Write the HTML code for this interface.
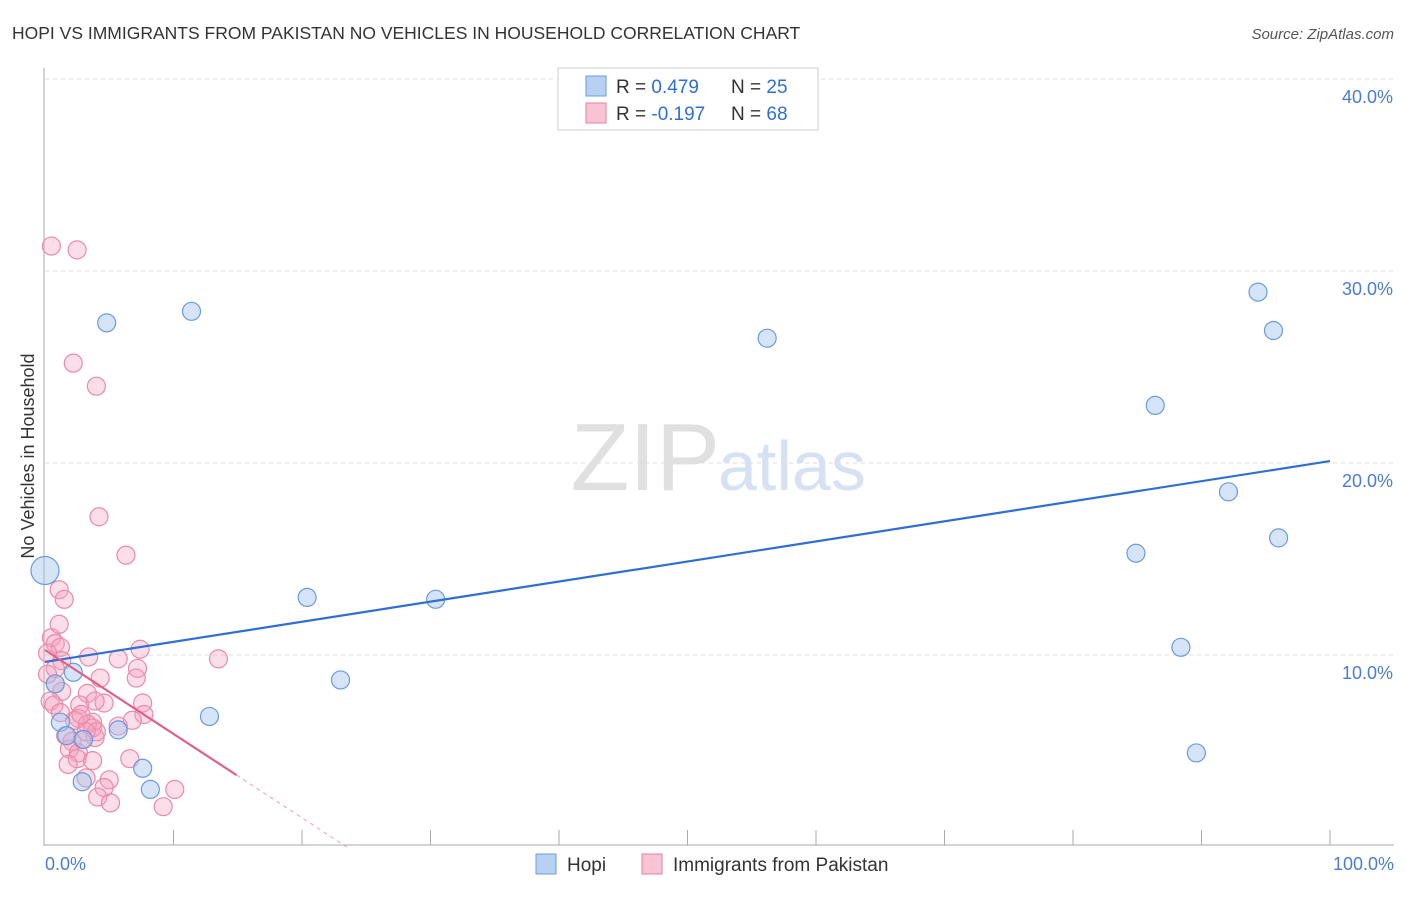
<!DOCTYPE html>
<html><head><meta charset="utf-8"><style>
body{margin:0;background:#fff;font-family:"Liberation Sans",sans-serif;}
svg text{font-family:"Liberation Sans",sans-serif;}
</style></head><body>
<svg width="1406" height="892" viewBox="0 0 1406 892">
<text x="12" y="39" font-size="17.5" fill="#333">HOPI VS IMMIGRANTS FROM PAKISTAN NO VEHICLES IN HOUSEHOLD CORRELATION CHART</text>
<text x="1394" y="39" font-size="15" fill="#555" font-style="italic" text-anchor="end">Source: ZipAtlas.com</text>
<g id="grid"></g>
<g id="axes"></g>
<text x="720" y="490" font-size="96" fill="#e0e0e0" text-anchor="end" font-family="Liberation Serif">ZIP</text>
<text x="718" y="490" font-size="70" fill="#d6e2f3">atlas</text>
<g id="pts"></g>
<g id="lines"></g>
<text x="34" y="456" font-size="18" fill="#333" transform="rotate(-90 34 456)" text-anchor="middle">No Vehicles in Household</text>
<text x="45" y="870" font-size="18" fill="#4a7cd6">0.0%</text>
<text x="1394" y="870" font-size="18" fill="#4a7cd6" text-anchor="end">100.0%</text>
<g>
<rect x="558" y="68" width="260" height="62" fill="#fff" stroke="#ccc"/>
<rect x="586" y="76" width="20" height="20" fill="#b8d0f2" stroke="#6a9be0"/>
<rect x="586" y="103" width="20" height="20" fill="#f8c4d4" stroke="#e8809f"/>
<text x="616" y="93" font-size="19" fill="#333">R = <tspan fill="#2f6fd4">0.479</tspan><tspan x="731">N = </tspan><tspan fill="#2f6fd4">25</tspan></text>
<text x="616" y="120" font-size="19" fill="#333">R = <tspan fill="#2f6fd4">-0.197</tspan><tspan x="731">N = </tspan><tspan fill="#2f6fd4">68</tspan></text>
</g>
<g>
<rect x="536" y="854" width="20" height="20" fill="#b8d0f2" stroke="#6a9be0"/>
<text x="567" y="871" font-size="19" fill="#333">Hopi</text>
<rect x="642" y="854" width="20" height="20" fill="#f8c4d4" stroke="#e8809f"/>
<text x="673" y="871" font-size="19" fill="#333">Immigrants from Pakistan</text>
</g>
</svg>
<script>
const yTicks=[10,20,30,40];
const yTickLabels=["10.0%","20.0%","30.0%","40.0%"];
const hopiX=[0,4.8,11.4,56.2,94.4,95.6,86.4,92.1,84.9,96.0,20.4,30.4,23.0,12.8,88.4,89.6,2.2,0.8,1.2,1.7,3.0,5.7,7.6,8.2,2.9];
const hopiY=[14.4,27.3,27.9,26.5,28.9,26.9,23.0,18.5,15.3,16.1,13.0,12.9,8.7,6.8,10.4,4.9,9.1,8.5,6.5,5.8,5.6,6.1,4.1,3.0,3.4];
const pakX=[0.5,2.5,2.2,4.0,4.2,6.3,1.1,1.5,0.5,0.8,1.2,0.2,1.3,3.4,5.7,7.4,13.5,7.2,4.3,7.1,0.8,3.3,1.3,4.6,0.4,0.7,2.7,2.6,7.6,7.7,6.8,2.3,3.7,3.3,1.6,2.1,3.9,3.7,1.9,2.6,2.5,6.6,3.2,5.0,4.6,4.1,5.1,10.1,9.2,5.7,1.2,0.8,0.2,1.8,3.7,2.9,3.9,2.8,4.0,3.2,1.1];
const pakY=[31.3,31.1,25.2,24.0,17.2,15.2,13.4,12.9,10.9,10.6,10.4,10.1,9.7,9.9,9.8,10.3,9.8,9.3,8.8,8.8,8.5,8.0,8.1,7.5,7.6,7.4,7.4,6.7,7.5,6.9,6.6,6.6,6.5,6.4,5.8,5.5,5.7,6.2,5.1,4.9,4.6,4.6,3.6,3.5,3.1,2.6,2.3,3.0,2.1,6.3,7.0,9.3,9.0,4.3,4.5,5.6,7.6,6.9,6.0,6.0,11.6];
const hopiTrend=[9.64,0.1046]; // intercept, slope
const pakTrend=[10.26,-0.437];
const x=v=>45+v*12.85, y=v=>847-v*19.2;
const NS="http://www.w3.org/2000/svg";
function mk(tag,attrs,parent){const e=document.createElementNS(NS,tag);for(const k in attrs)e.setAttribute(k,attrs[k]);document.getElementById(parent).appendChild(e);return e;}
yTicks.forEach((t,i)=>{
 const l=mk('line',{x1:45,x2:1394,y1:y(t),y2:y(t),stroke:'#ddd','stroke-dasharray':'4,4'},'grid');
 
 
 const tx=mk('text',{x:1393,y:y(t)+24,'font-size':18,fill:'#4a7cd6','text-anchor':'end'},'grid');
 tx.textContent=yTickLabels[i];
 
 
});
const g1=mk('line',{x1:45,x2:1394,y1:79,y2:79,stroke:'#ddd','stroke-dasharray':'4,4'},'grid');
const ya=mk('line',{x1:44,x2:44,y1:68,y2:846,stroke:'#aaa'},'axes');


const xa=mk('line',{x1:44,x2:1394,y1:845,y2:845,stroke:'#aaa'},'axes');


for(let k=1;k<=10;k++){const t=mk('line',{x1:x(k*10),x2:x(k*10),y1:830,y2:845,stroke:'#aaa'},'axes');
 
 }
pakX.forEach((v,i)=>{const c=mk('circle',{cx:x(v),cy:y(pakY[i]),r:9,fill:'rgba(245,160,190,0.35)',stroke:'#ea8aa8','stroke-width':1.2},'pts');
 
 });
hopiX.forEach((v,i)=>{const c=mk('circle',{cx:x(v),cy:y(hopiY[i]),r:i==0?14:9,fill:'rgba(164,196,240,0.45)',stroke:'#6a9be0','stroke-width':1.2},'pts');
 
 });
const hl=mk('line',{x1:x(0),y1:y(hopiTrend[0]),x2:x(100),y2:y(hopiTrend[0]+100*hopiTrend[1]),stroke:'#2f6fd4','stroke-width':2.2},'lines');


const pe=14.9, pz=-pakTrend[0]/pakTrend[1];
const pl=mk('line',{x1:x(0),y1:y(pakTrend[0]),x2:x(pe),y2:y(pakTrend[0]+pe*pakTrend[1]),stroke:'#e0608a','stroke-width':2.2},'lines');


const pd=mk('line',{x1:x(pe),y1:y(pakTrend[0]+pe*pakTrend[1]),x2:x(pz),y2:y(0),stroke:'#e0608a','stroke-width':1,'stroke-dasharray':'4,4',opacity:0.6},'lines');


</script>
</body></html>
